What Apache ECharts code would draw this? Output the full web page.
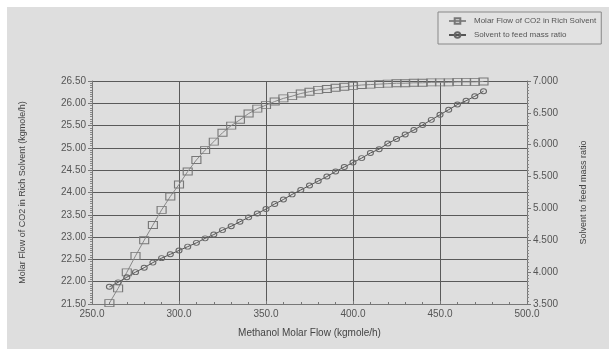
<!DOCTYPE html>
<html>
<head>
<meta charset="utf-8">
<script src="https://cdn.jsdelivr.net/npm/echarts@6/dist/echarts.min.js"></script>
<style>
  html, body { margin: 0; padding: 0; background: #fff; }
  #main { position: absolute; left: 7px; top: 7px; width: 602px; height: 342px; background: #dedede; }
</style>
</head>
<body>
<div id="main"></div>
<script>
// methanol molar flow (kgmole/h)
var methanolFlow = [260, 265, 270, 275, 280, 285, 290, 295, 300, 305, 310, 315, 320, 325, 330, 335, 340, 345, 350, 355, 360, 365,
  370, 375, 380, 385, 390, 395, 400, 405, 410, 415, 420, 425, 430, 435, 440, 445, 450, 455, 460, 465, 470, 475];
// molar flow of CO2 in rich solvent (left axis)
var co2Flow = [21.52, 21.85, 22.21, 22.58, 22.93, 23.27, 23.61, 23.91, 24.18, 24.47, 24.73, 24.95, 25.14, 25.34, 25.50, 25.63, 25.77, 25.88, 25.96, 26.04, 26.11, 26.16,
  26.22, 26.26, 26.30, 26.32, 26.35, 26.37, 26.39, 26.41, 26.42, 26.43, 26.44, 26.45, 26.45, 26.46, 26.46, 26.47, 26.47, 26.47, 26.48, 26.48, 26.48, 26.49];
// solvent to feed mass ratio (right axis)
var massRatio = [3.77, 3.84, 3.92, 4.00, 4.07, 4.15, 4.22, 4.28, 4.34, 4.40, 4.46, 4.53, 4.59, 4.66, 4.72, 4.79, 4.86, 4.92, 4.99, 5.07, 5.14, 5.22,
  5.29, 5.36, 5.43, 5.50, 5.58, 5.65, 5.72, 5.79, 5.87, 5.93, 6.02, 6.09, 6.16, 6.23, 6.31, 6.39, 6.47, 6.55, 6.63, 6.69, 6.76, 6.84];

var seriesNames = ['Molar Flow of CO2 in Rich Solvent', 'Solvent to feed mass ratio'];

var d1 = [], d2 = [];
for (let i = 0; i < methanolFlow.length; i++) {
  d1.push([methanolFlow[i], co2Flow[i]]);
  d2.push([methanolFlow[i], massRatio[i]]);
}

var font = 'Liberation Sans, Arial, sans-serif';
var txt = { color: '#555', fontSize: 10, fontFamily: font };
var gridLine = { show: true, lineStyle: { color: '#5a5a5a', width: 1 } };

var myChart = echarts.init(document.getElementById('main'));
var option = {
  backgroundColor: '#dedede',
  animation: false,
  grid: { left: 85, right: 82, top: 74, bottom: 45 },
  legend: {
    orient: 'vertical',
    left: 431, top: 5,
    padding: [5, 5, 5, 10],
    itemGap: 6,
    itemWidth: 17, itemHeight: 7,
    borderColor: '#888', borderWidth: 1,
    backgroundColor: '#e2e2e2',
    textStyle: { color: '#555', fontSize: 8, fontFamily: font, padding: [0, 0, 0, 3] },
    data: seriesNames
  },
  xAxis: {
    type: 'value', min: 250, max: 500, interval: 50,
    name: 'Methanol Molar Flow (kgmole/h)', nameLocation: 'middle', nameGap: 24,
    nameTextStyle: { color: '#444', fontSize: 10, fontFamily: font },
    axisLine: { lineStyle: { color: '#777' } },
    axisTick: { inside: true, length: 3, lineStyle: { color: '#777' } },
    minorTick: { show: true, splitNumber: 5, length: 2, lineStyle: { color: '#777' } },
    axisLabel: Object.assign({ formatter: v => v.toFixed(1), margin: 5 }, txt),
    splitLine: gridLine
  },
  yAxis: [{
    type: 'value', min: 21.5, max: 26.5, interval: 0.5,
    name: 'Molar Flow of CO2 in Rich Solvent (kgmole/h)', nameLocation: 'middle', nameGap: 65,
    nameTextStyle: { color: '#444', fontSize: 9, fontFamily: font },
    axisLine: { show: true, lineStyle: { color: '#777' } },
    axisTick: { show: true, length: 4, lineStyle: { color: '#777' } },
    minorTick: { show: true, splitNumber: 10, length: 2, lineStyle: { color: '#888' } },
    axisLabel: Object.assign({ formatter: v => v.toFixed(2), margin: 6 }, txt),
    splitLine: gridLine
  }, {
    type: 'value', min: 3.5, max: 7, interval: 0.5,
    name: 'Solvent to feed mass ratio', nameLocation: 'middle', nameGap: 52, nameRotate: 90,
    nameTextStyle: { color: '#444', fontSize: 9, fontFamily: font },
    axisLine: { show: true, lineStyle: { color: '#777' } },
    axisTick: { show: true, length: 4, lineStyle: { color: '#777' } },
    minorTick: { show: true, splitNumber: 10, length: 2, lineStyle: { color: '#888' } },
    axisLabel: Object.assign({ formatter: v => v.toFixed(3), margin: 6 }, txt),
    splitLine: { show: false }
  }],
  series: [{
    name: seriesNames[0], type: 'line', yAxisIndex: 0,
    data: d1,
    symbol: 'rect', symbolSize: [9, 7],
    itemStyle: { color: 'rgba(0,0,0,0)', borderColor: '#777', borderWidth: 1 },
    lineStyle: { color: '#888', width: 1 },
    clip: true
  }, {
    name: seriesNames[1], type: 'line', yAxisIndex: 1,
    data: d2,
    symbol: 'circle', symbolSize: [6, 5],
    itemStyle: { color: 'rgba(0,0,0,0)', borderColor: '#666', borderWidth: 1 },
    lineStyle: { color: '#555', width: 1 },
    clip: true
  }]
};
myChart.setOption(option);
</script>
</body>
</html>
